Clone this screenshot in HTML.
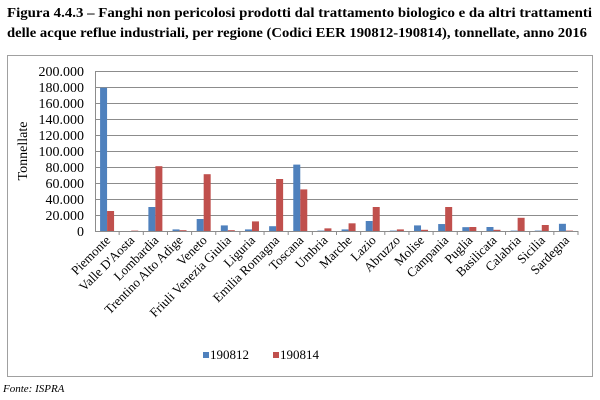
<!DOCTYPE html>
<html><head><meta charset="utf-8"><style>body{margin:0;background:#fff}svg{display:block}text{font-family:'Liberation Serif','DejaVu Serif',serif !important}</style></head><body>
<svg width="600" height="400" xmlns="http://www.w3.org/2000/svg" font-family="'Liberation Serif', serif">
<text x="7" y="17" font-size="14" font-weight="bold" textLength="585" lengthAdjust="spacingAndGlyphs">Figura 4.4.3 – Fanghi non pericolosi prodotti dal trattamento biologico e da altri trattamenti</text>
<text x="7" y="37" font-size="14" font-weight="bold" textLength="580" lengthAdjust="spacingAndGlyphs">delle acque reflue industriali, per regione (Codici EER 190812-190814), tonnellate, anno 2016</text>
<rect x="7.5" y="55.5" width="585" height="321" fill="none" stroke="#a0a0a0"/>
<g stroke="#8c8c8c" stroke-width="1">
<line x1="95" x2="578" y1="71.5" y2="71.5"/><line x1="95" x2="578" y1="87.5" y2="87.5"/><line x1="95" x2="578" y1="103.5" y2="103.5"/><line x1="95" x2="578" y1="119.5" y2="119.5"/><line x1="95" x2="578" y1="135.5" y2="135.5"/><line x1="95" x2="578" y1="151.5" y2="151.5"/><line x1="95" x2="578" y1="167.5" y2="167.5"/><line x1="95" x2="578" y1="183.5" y2="183.5"/><line x1="95" x2="578" y1="199.5" y2="199.5"/><line x1="95" x2="578" y1="215.5" y2="215.5"/><line x1="95" x2="578" y1="231.5" y2="231.5"/>
<line x1="95.5" x2="95.5" y1="71" y2="231"/>
</g>
<g font-size="14" text-anchor="end" font-family="'Liberation Serif', serif">
<text x="84" y="76">200.000</text><text x="84" y="92">180.000</text><text x="84" y="108">160.000</text><text x="84" y="124">140.000</text><text x="84" y="140">120.000</text><text x="84" y="156">100.000</text><text x="84" y="172">80.000</text><text x="84" y="188">60.000</text><text x="84" y="204">40.000</text><text x="84" y="220">20.000</text><text x="84" y="236">0</text>
</g>
<text transform="translate(27,151) rotate(-90)" font-size="14" text-anchor="middle">Tonnellate</text>
<g id="bars"></g>
<g id="labels" font-size="13" text-anchor="end"></g>
<rect x="203" y="352" width="6" height="6" fill="#4f81bd"/><text x="210" y="359" font-size="13">190812</text>
<rect x="273" y="352" width="6" height="6" fill="#c0504d"/><text x="280" y="359" font-size="13">190814</text>
<text x="3" y="392" font-size="11" font-style="italic">Fonte: ISPRA</text>
<script>
var names=["Piemonte","Valle D'Aosta","Lombardia","Trentino Alto Adige","Veneto","Friuli Venezia Giulia","Liguria","Emilia Romagna","Toscana","Umbria","Marche","Lazio","Abruzzo","Molise","Campania","Puglia","Basilicata","Calabria","Sicilia","Sardegna"];
var a=[179000,0,30000,2000,15000,7000,2000,6000,83000,500,2000,12500,500,7000,8700,4800,5000,500,500,9000];
var b=[25000,500,81000,1000,71000,1000,12000,65000,52000,3300,9600,30000,2000,1500,30000,5000,1500,16500,7500,500];
var ns="http://www.w3.org/2000/svg",g=document.getElementById("bars"),L=document.getElementById("labels");
var w=483/20;
for(var i=0;i<20;i++){var c=95+w*(i+0.5);
function r(x,v,col){var h=v*160/200000;var e=document.createElementNS(ns,"rect");e.setAttribute("x",x);e.setAttribute("y",231-h);e.setAttribute("width",7);e.setAttribute("height",h);e.setAttribute("fill",col);g.appendChild(e);}
r(c-7,a[i],"#4f81bd");r(c,b[i],"#c0504d");
var t=document.createElementNS(ns,"line");var tx=95+w*(i+1);t.setAttribute("x1",tx);t.setAttribute("x2",tx);t.setAttribute("y1",231);t.setAttribute("y2",235);t.setAttribute("stroke","#8c8c8c");g.appendChild(t);
var s=document.createElementNS(ns,"text");s.setAttribute("transform","translate("+(c+4)+",241) rotate(-45)");s.textContent=names[i];L.appendChild(s);}
</script>
</svg>
</body></html>
